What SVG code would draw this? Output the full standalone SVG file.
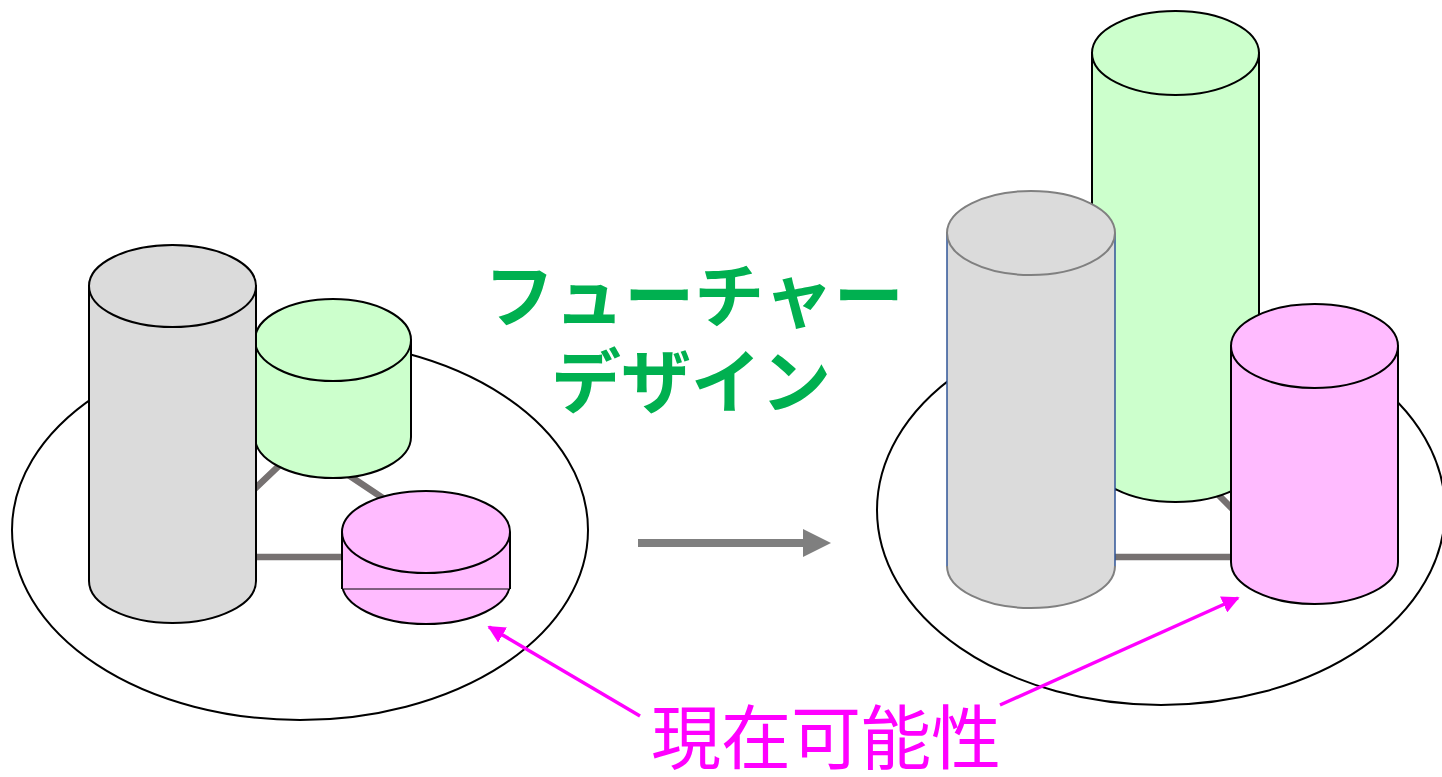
<svg xmlns="http://www.w3.org/2000/svg" width="1442" height="777" viewBox="0 0 1442 777">
<style>
.base{fill:none;stroke:#000;stroke-width:2}
.conn{fill:none;stroke:#767171;stroke-width:6.5}
.gray{fill:#dbdbdb;stroke:#000;stroke-width:2}
.green{fill:#ccffcc;stroke:#000;stroke-width:2}
.pink{fill:#ffbbff;stroke:#000;stroke-width:2}
.lbl{font-family:"Noto Sans CJK JP","Noto Sans CJK SC",sans-serif;text-anchor:middle}
.mag{stroke:#ff00ff;stroke-width:3.5;fill:none}
</style>
<defs>
<marker id="mh" viewBox="0 0 10 10" refX="9" refY="5" markerWidth="5" markerHeight="5" orient="auto" markerUnits="strokeWidth">
<path d="M0,0 L10,5 L0,10 Z" fill="#ff00ff"/>
</marker>
</defs>

<g id="left-cluster">
<ellipse id="left-base" class="base" cx="300" cy="530" rx="288" ry="190"/>
<g id="left-connectors">
<polygon class="conn" points="183,557 302,444 471,557"/>
</g>
<g id="left-green">
<path class="green" d="M255,340 L255,437 A78,41 0 0 0 411,437 L411,340 Z"/>
<ellipse class="green" cx="333" cy="340" rx="78" ry="41"/>
</g>
<g id="left-gray">
<path class="gray" d="M89,286 L89,581 A83.5,42 0 0 0 256,581 L256,286 Z"/>
<ellipse class="gray" cx="172.5" cy="286" rx="83.5" ry="41"/>
</g>
<g id="left-pink">
<ellipse class="pink" cx="426" cy="583" rx="84" ry="41"/>
<rect x="342" y="532" width="168" height="57" fill="#ffbbff"/>
<line x1="342" y1="532" x2="342" y2="589" stroke="#000" stroke-width="2"/>
<line x1="510" y1="532" x2="510" y2="589" stroke="#000" stroke-width="2"/>
<line x1="342" y1="589" x2="510" y2="589" stroke="#000" stroke-width="1"/>
<ellipse class="pink" cx="426" cy="532" rx="84" ry="41"/>
</g>
</g>

<g id="right-cluster">
<ellipse id="right-base" class="base" cx="1161" cy="510" rx="284" ry="195"/>
<g id="right-connectors">
<polyline class="conn" points="1000,557 1175,451 1280,557"/>
<line class="conn" x1="1031" y1="557" x2="1314" y2="557"/>
</g>
<g id="right-green">
<path class="green" d="M1092,53 L1092,460 A83.5,42 0 0 0 1259,460 L1259,53 Z"/>
<ellipse class="green" cx="1175.5" cy="53" rx="83.5" ry="42"/>
</g>
<g id="right-gray">
<path d="M947,233 L947,566 A84,42 0 0 0 1115,566 L1115,233 Z" fill="#dbdbdb"/>
<path d="M947,566 A84,42 0 0 0 1115,566" fill="none" stroke="#808080" stroke-width="2"/>
<line x1="947" y1="233" x2="947" y2="566" stroke="#2f5597" stroke-width="1.5"/>
<line x1="1115" y1="233" x2="1115" y2="566" stroke="#2f5597" stroke-width="1.5"/>
<ellipse cx="1031" cy="233" rx="84" ry="42" fill="#dbdbdb" stroke="#808080" stroke-width="2"/>
</g>
<g id="right-pink">
<path class="pink" d="M1231,346 L1231,562 A83.5,42 0 0 0 1398,562 L1398,346 Z"/>
<ellipse class="pink" cx="1314.5" cy="346" rx="83.5" ry="42"/>
</g>
</g>

<g id="transition-arrow">
<line x1="638" y1="543" x2="805" y2="543" stroke="#7f7f7f" stroke-width="8"/>
<polygon points="803,529 831,543 803,557" fill="#7f7f7f"/>
</g>

<g id="title">
<text class="lbl" font-size="70" font-weight="bold" fill="#00b050"><tspan x="694" y="322">フューチャー</tspan><tspan x="691" y="408">デザイン</tspan></text>
</g>

<g id="callout-arrows">
<line class="mag" x1="640" y1="716" x2="489" y2="627" marker-end="url(#mh)"/>
<line class="mag" x1="1000" y1="705" x2="1238" y2="598" marker-end="url(#mh)"/>
</g>

<g id="callout">
<text class="lbl" x="826" y="764" font-size="70" fill="#ff00ff">現在可能性</text>
</g>
</svg>
